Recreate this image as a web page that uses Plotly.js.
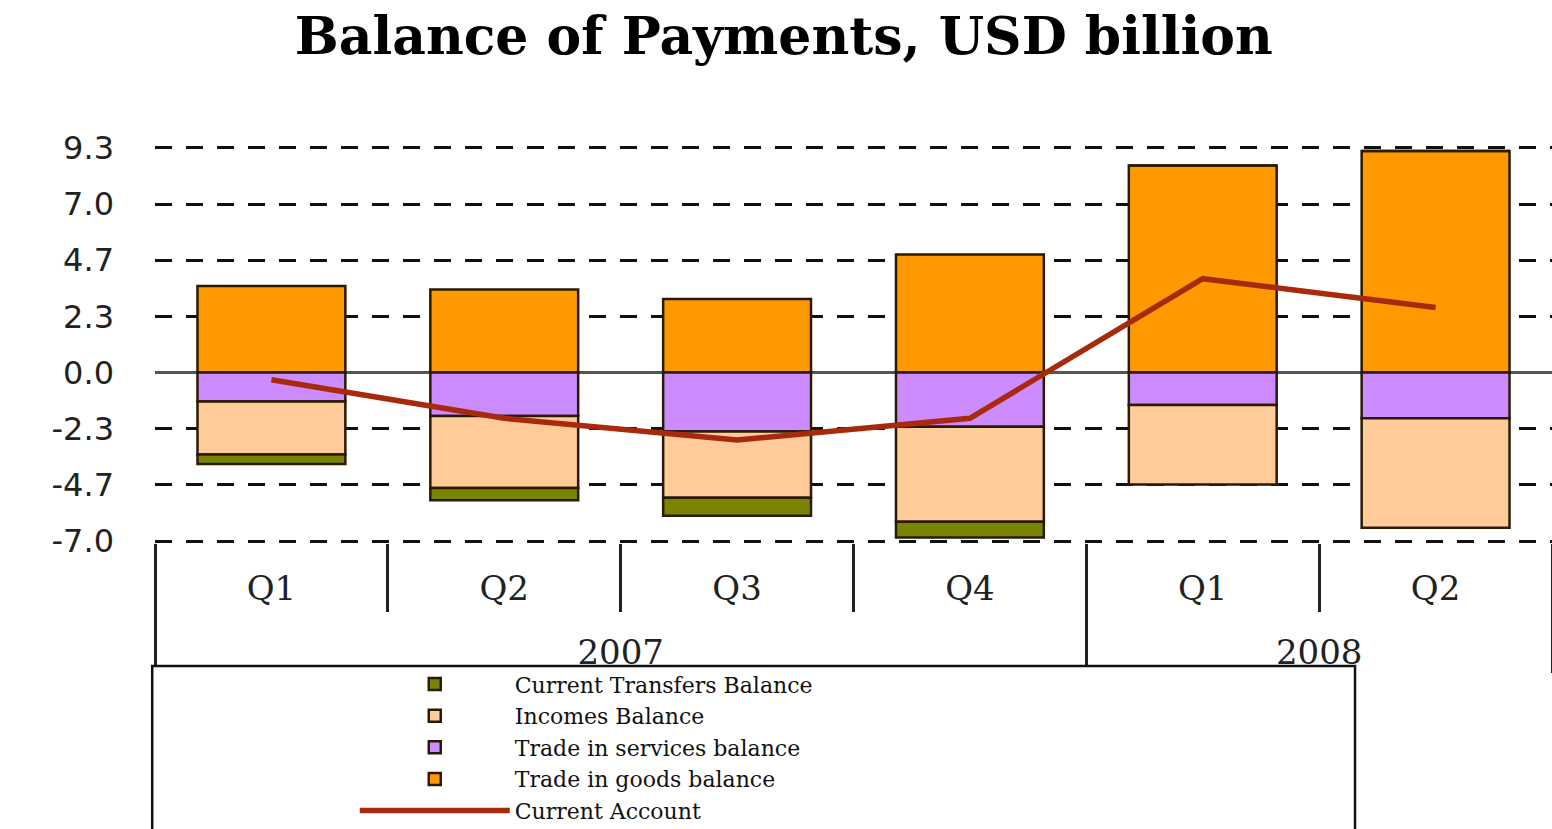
<!DOCTYPE html>
<html>
<head>
<meta charset="utf-8">
<script src="https://cdn.plot.ly/plotly-3.0.1.min.js"></script>
<style>
  html, body { margin: 0; padding: 0; background: #ffffff; }
  #chart { width: 1552px; height: 829px; }
</style>
</head>
<body>
<div id="chart"></div>
<script>
// ---- data ----
const years = ["2007", "2007", "2007", "2007", "2008", "2008"];
const quarters = ["Q1", "Q2", "Q3", "Q4", "Q1", "Q2"];
const tradeGoods = [3.6, 3.45, 3.05, 4.9, 8.6, 9.2];
const tradeServices = [-1.2, -1.8, -2.45, -2.25, -1.35, -1.9];
const incomes = [-2.2, -3.0, -2.75, -3.95, -3.3, -4.55];
const currentTransfers = [-0.4, -0.5, -0.75, -0.65, 0, 0];
const currentAccount = [-0.3, -1.9, -2.8, -1.9, 3.9, 2.7];
const yTickVals = [-7.0, -4.667, -2.333, 0, 2.333, 4.667, 7.0, 9.333];
const yTickText = ["-7.0", "-4.7", "-2.3", "0.0", "2.3", "4.7", "7.0", "9.3"];

// quarter labels get an empty second line so the year row sits lower, as in the original
const quarterLabels = quarters.map(q => q + "<br>\u00a0");
const x = [years, quarterLabels];
const barLine = { color: "#2a1a05", width: 2.5 };

const traces = [
  { type: "bar", name: "Trade in goods balance", x: x, y: tradeGoods,
    marker: { color: "#FF9900", line: barLine }, legendrank: 4 },
  { type: "bar", name: "Trade in services balance", x: x, y: tradeServices,
    marker: { color: "#CC8CFF", line: barLine }, legendrank: 3 },
  { type: "bar", name: "Incomes Balance", x: x, y: incomes,
    marker: { color: "#FFCC99", line: barLine }, legendrank: 2 },
  { type: "bar", name: "Current Transfers Balance", x: x, y: currentTransfers,
    marker: { color: "#7A8400", line: barLine }, legendrank: 1 },
  { type: "scatter", mode: "lines", name: "Current Account", x: x, y: currentAccount,
    line: { color: "#A82A0C", width: 5.5 }, legendrank: 5 }
];

// plot area: top 146px, bottom 543px
const layout = {
  width: 1552,
  height: 829,
  margin: { l: 155, r: 0, t: 146, b: 286, autoexpand: false },
  paper_bgcolor: "#ffffff",
  plot_bgcolor: "#ffffff",
  barmode: "relative",
  bargap: 0.365,
  showlegend: true,
  title: {
    text: "Balance of Payments, USD billion",
    font: { family: "DejaVu Serif", size: 52, color: "#000000", weight: "bold" },
    x: 0.505, xanchor: "center",
    y: 0.957, yanchor: "middle"
  },
  xaxis: {
    type: "multicategory",
    automargin: false,
    showgrid: false,
    zeroline: false,
    showline: false,
    ticks: "outside",
    ticklen: 68,
    tickwidth: 3,
    tickcolor: "#222222",
    ticklabelstandoff: 22,
    showdividers: true,
    dividercolor: "#222222",
    dividerwidth: 3,
    tickfont: { family: "DejaVu Serif", size: 34, color: "#222222" }
  },
  yaxis: {
    automargin: false,
    range: [-7.08, 9.41],
    tickmode: "array",
    tickvals: yTickVals,
    ticktext: yTickText,
    showgrid: true,
    gridcolor: "#111111",
    gridwidth: 3,
    griddash: "17px,14px",
    zeroline: true,
    zerolinecolor: "#555555",
    zerolinewidth: 3,
    showline: false,
    ticks: "",
    ticklabelstandoff: 40,
    tickfont: { family: "DejaVu Sans", size: 32, color: "#222222" }
  },
  legend: {
    x: 0.143, y: -0.303,
    xanchor: "left", yanchor: "top",
    bgcolor: "rgba(0,0,0,0)",
    borderwidth: 0,
    traceorder: "normal",
    itemwidth: 150,
    tracegroupgap: 0,
    font: { family: "DejaVu Serif", size: 22, color: "#111111" }
  },
  shapes: [
    { type: "rect", xref: "paper", yref: "paper",
      x0: -0.002, x1: 0.859, y0: -0.31, y1: -0.85,
      fillcolor: "#ffffff", line: { color: "#111111", width: 2.5 }, layer: "above" }
  ]
};

Plotly.newPlot("chart", traces, layout, { displayModeBar: false, staticPlot: true });
</script>
</body>
</html>
